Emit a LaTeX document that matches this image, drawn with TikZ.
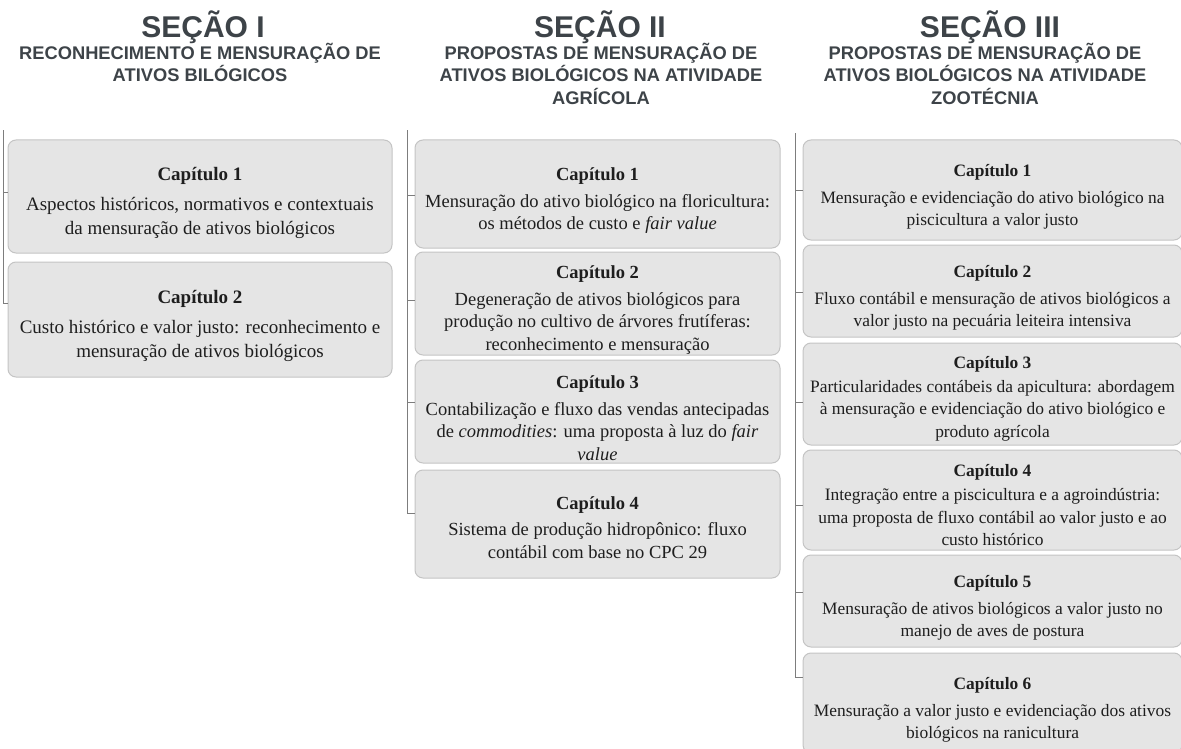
\documentclass[tikz,border=0pt]{standalone}
\usepackage{fontspec}
\setmainfont{Liberation Serif}
\newfontfamily\hfont{Liberation Sans}
\definecolor{headc}{RGB}{61,67,72}
\definecolor{boxfill}{RGB}{229,229,229}
\definecolor{boxline}{RGB}{196,196,196}
\definecolor{treec}{RGB}{125,125,125}
\definecolor{txt}{RGB}{30,30,30}
\newcommand\capt[1]{\rule{0pt}{26pt}\textbf{Capítulo #1}}
\tikzset{
  sectitle/.style={font=\hfont\bfseries\fontsize{30}{32}\selectfont, text=headc, anchor=base, inner sep=0pt},
  secsub/.style={font=\hfont\bfseries\fontsize{18.3}{22.5}\selectfont, text=headc, anchor=base, align=center, inner sep=0pt},
  chap/.style={draw=boxline, fill=boxfill, rounded corners=8pt, line width=1pt, align=center, text=txt, inner sep=0pt},
  chapA/.style={chap, font=\fontsize{19}{24}\selectfont},
  chapB/.style={chap, font=\fontsize{18.5}{22.5}\selectfont},
  chapC/.style={chap, font=\fontsize{17.4}{22.5}\selectfont},
  tree/.style={draw=treec, line width=1pt},
}
\begin{document}
\begin{tikzpicture}[x=1pt,y=-1pt]
\useasboundingbox (0,0) rectangle (1181,749);
% headers
\node[sectitle] (h1) at (203,38) {SEÇÃO I};
\node[secsub] (h1s) at (200,82) {RECONHECIMENTO E MENSURAÇÃO DE\\ATIVOS BILÓGICOS};
\node[sectitle] (h2) at (600,38) {SEÇÃO II};
\node[secsub] (h2s) at (601,104.5) {PROPOSTAS DE MENSURAÇÃO DE\\ATIVOS BIOLÓGICOS NA ATIVIDADE\\AGRÍCOLA};
\node[sectitle] (h3) at (990,38) {SEÇÃO III};
\node[secsub] (h3s) at (985,104.5) {PROPOSTAS DE MENSURAÇÃO DE\\ATIVOS BIOLÓGICOS NA ATIVIDADE\\ZOOTÉCNIA};
% section I
\coordinate (s1) at (3,130);
\node[chapA, minimum width=384, minimum height=113] (b11) at (200,196.5)
  {\capt{1}\\[6pt]Aspectos históricos, normativos e contextuais\\da mensuração de ativos biológicos};
\node[chapA, minimum width=384, minimum height=115] (b12) at (200,319.5)
  {\capt{2}\\[6pt]Custo histórico e valor justo: reconhecimento e\\mensuração de ativos biológicos};
\draw[tree] ([yshift=4.5pt]b11.west) -| (s1);
\draw[tree] ([yshift=16.5pt]b12.west) -| (s1);
% section II
\coordinate (s2) at (407,130);
\node[chapB, minimum width=365, minimum height=108] (b21) at (597.5,194)
  {\capt{1}\\[4pt]Mensuração do ativo biológico na floricultura:\\os métodos de custo e \textit{fair value}};
\node[chapB, minimum width=365, minimum height=103] (b22) at (597.5,303.5)
  {\capt{2}\\[4pt]Degeneração de ativos biológicos para\\produção no cultivo de árvores frutíferas:\\reconhecimento e mensuração};
\node[chapB, minimum width=365, minimum height=103] (b23) at (597.5,411.5)
  {\capt{3}\\[4pt]Contabilização e fluxo das vendas antecipadas\\de \textit{commodities}: uma proposta à luz do \textit{fair}\\\textit{value}};
\node[chapB, minimum width=365, minimum height=108] (b24) at (597.5,524)
  {\rule{0pt}{20pt}\textbf{Capítulo 4}\\[4pt]Sistema de produção hidropônico: fluxo\\contábil com base no CPC 29};
\draw[tree] ([yshift=-1pt]b21.west) -| (s2);
\draw[tree] ([yshift=3.5pt]b22.west) -| (s2);
\draw[tree] ([yshift=9.5pt]b23.west) -| (s2);
\draw[tree] ([yshift=11pt]b24.west) -| (s2);
% section III
\coordinate (s3) at (795,133);
\node[chapC, minimum width=379, minimum height=100] (b31) at (992.5,190)
  {\capt{1}\\[4pt]Mensuração e evidenciação do ativo biológico na\\piscicultura a valor justo};
\node[chapC, minimum width=379, minimum height=92] (b32) at (992.5,291)
  {\capt{2}\\[4pt]Fluxo contábil e mensuração de ativos biológicos a\\valor justo na pecuária leiteira intensiva};
\node[chapC, minimum width=379, minimum height=102] (b33) at (992.5,394)
  {\rule{0pt}{22pt}\textbf{Capítulo 3}\\[1pt]Particularidades contábeis da apicultura: abordagem\\à mensuração e evidenciação do ativo biológico e\\produto agrícola};
\node[chapC, minimum width=379, minimum height=100] (b34) at (992.5,500)
  {\rule{0pt}{22pt}\textbf{Capítulo 4}\\[2pt]Integração entre a piscicultura e a agroindústria:\\uma proposta de fluxo contábil ao valor justo e ao\\custo histórico};
\node[chapC, minimum width=379, minimum height=92] (b35) at (992.5,601)
  {\capt{5}\\[4pt]Mensuração de ativos biológicos a valor justo no\\manejo de aves de postura};
\node[chapC, minimum width=379, minimum height=100] (b36) at (992.5,703)
  {\capt{6}\\[4pt]Mensuração a valor justo e evidenciação dos ativos\\biológicos na ranicultura};
\draw[tree] (b31.west) -| (s3);
\draw[tree] ([yshift=-1pt]b32.west) -| (s3);
\draw[tree] ([yshift=-8pt]b33.west) -| (s3);
\draw[tree] ([yshift=-5pt]b34.west) -| (s3);
\draw[tree] ([yshift=9pt]b35.west) -| (s3);
\draw[tree] ([yshift=26pt]b36.west) -| (s3);
\end{tikzpicture}
\end{document}
